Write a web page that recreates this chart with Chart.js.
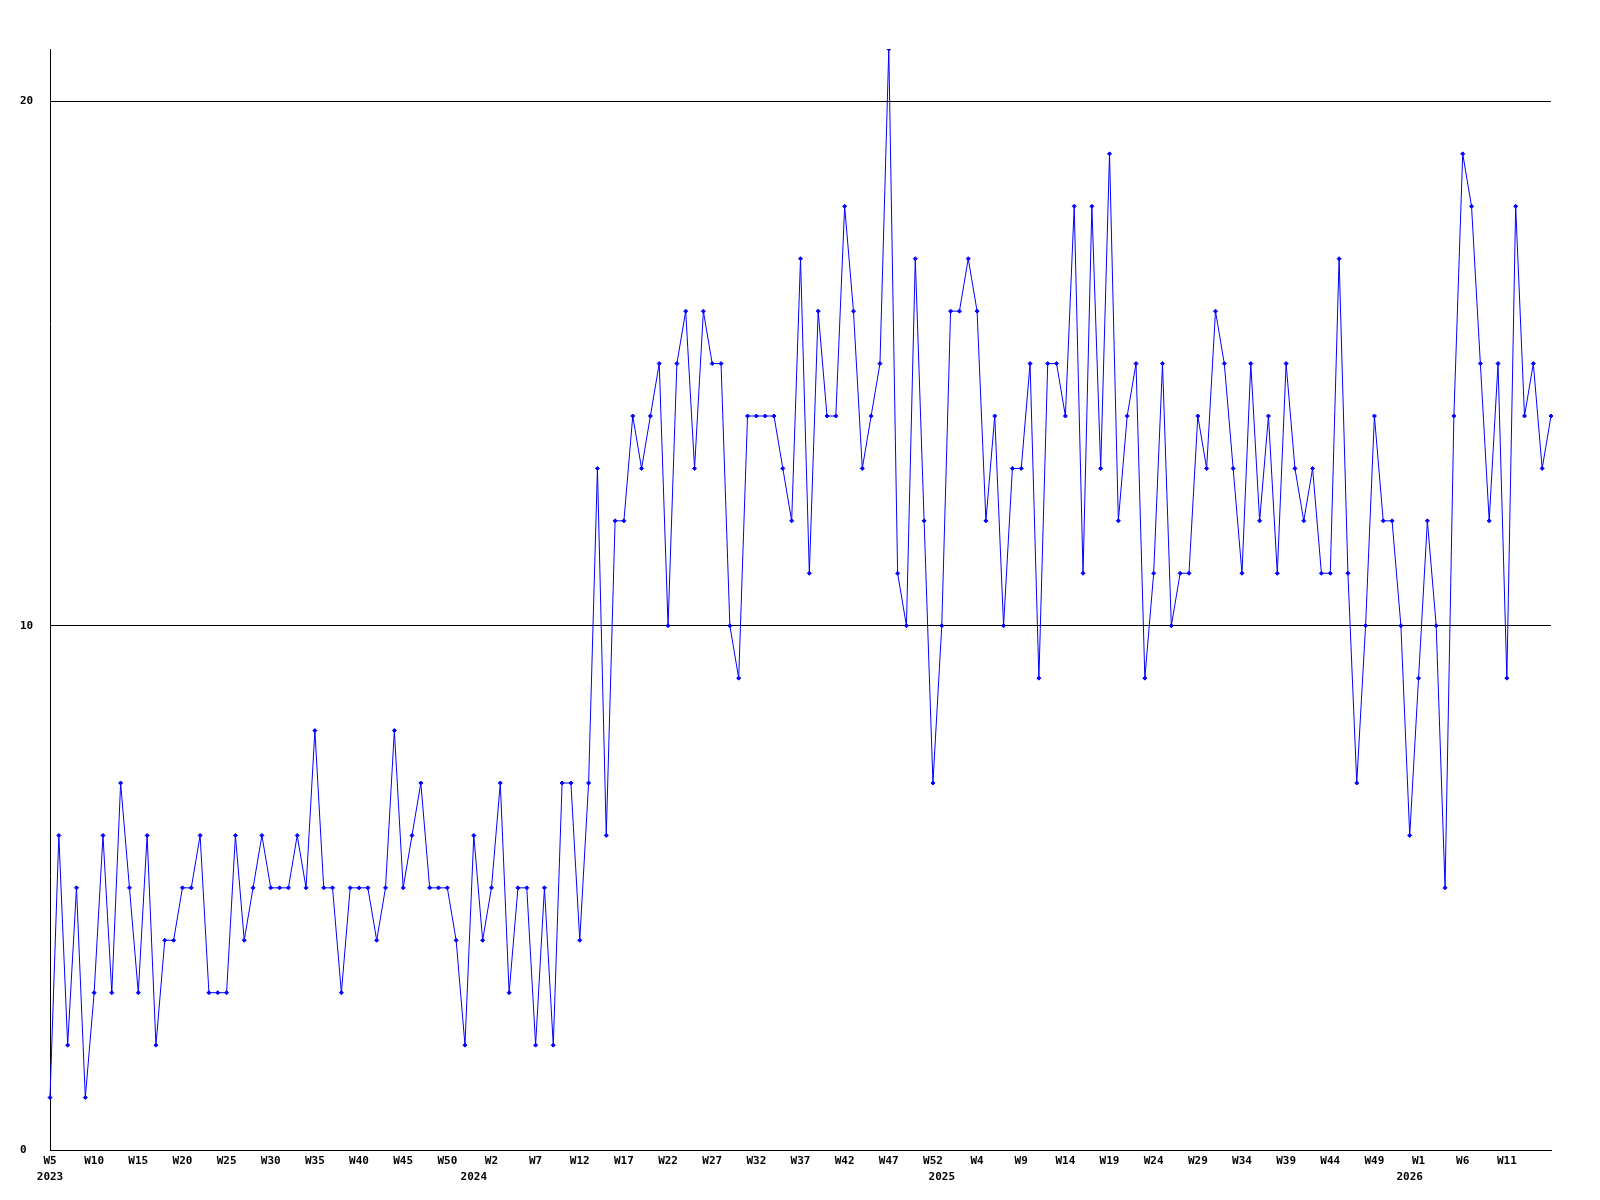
<!DOCTYPE html>
<html>
<head>
<meta charset="utf-8">
<script src="https://cdn.jsdelivr.net/npm/chart.js@4.4.0/dist/chart.umd.min.js"></script>
<style>
  html, body { margin: 0; padding: 0; background: #fff; }
  #chart { display: block; }
</style>
</head>
<body>
<canvas id="chart" width="1600" height="1200"></canvas>
<script>
// weeks covered by the series, per year
const years = [2023, 2024, 2025, 2026];
const firstWeeks = [5, 0, 0, 0];
const lastWeeks = [52, 52, 52, 16];

// weekly counts, one per week from 2023 W5 to 2026 W16
const counts = [
  1, 6, 2, 5, 1, 3, 6, 3, 7, 5, 3, 6, 2, 4, 4, 5, 5, 6, 3, 3,
  3, 6, 4, 5, 6, 5, 5, 5, 6, 5, 8, 5, 5, 3, 5, 5, 5, 4, 5, 8,
  5, 6, 7, 5, 5, 5, 4, 2, 6, 4, 5, 7, 3, 5, 5, 2, 5, 2, 7, 7,
  4, 7, 13, 6, 12, 12, 14, 13, 14, 15, 10, 15, 16, 13, 16, 15, 15, 10, 9, 14,
  14, 14, 14, 13, 12, 17, 11, 16, 14, 14, 18, 16, 13, 14, 15, 21, 11, 10, 17, 12,
  7, 10, 16, 16, 17, 16, 12, 14, 10, 13, 13, 15, 9, 15, 15, 14, 18, 11, 18, 13,
  19, 12, 14, 15, 9, 11, 15, 10, 11, 11, 14, 13, 16, 15, 13, 11, 15, 12, 14, 11,
  15, 13, 12, 13, 11, 11, 17, 11, 7, 10, 14, 12, 12, 10, 6, 9, 12, 10, 5, 14,
  19, 18, 15, 12, 15, 9, 18, 14, 15, 13, 14
];

// labels shown on the axis, one every 5 weeks
const weekTicks = [
  'W5', 'W10', 'W15', 'W20', 'W25', 'W30', 'W35', 'W40', 'W45', 'W50',
  'W2', 'W7', 'W12', 'W17', 'W22', 'W27', 'W32', 'W37', 'W42', 'W47', 'W52',
  'W4', 'W9', 'W14', 'W19', 'W24', 'W29', 'W34', 'W39', 'W44', 'W49',
  'W1', 'W6', 'W11'
];
const yTicks = [0, 10, 20];

// build the category list (year + week)
const categories = [];
const categoryYear = [];
years.forEach((y, k) => {
  for (let w = firstWeeks[k]; w <= lastWeeks[k]; w++) {
    categories.push(y + '-W' + w);
    categoryYear.push(y);
  }
});

const FONT = { family: "'DejaVu Sans Mono', monospace", size: 11, weight: 'bold' };
Chart.defaults.color = '#000';

new Chart(document.getElementById('chart'), {
  type: 'line',
  data: {
    labels: categories,
    datasets: [{
      data: counts,
      borderColor: '#0000ff',
      backgroundColor: '#0000ff',
      borderWidth: 1,
      tension: 0,
      pointStyle: 'rectRot',
      pointRadius: 2,
      pointBorderWidth: 1,
      xAxisID: 'x',
      yAxisID: 'y'
    }]
  },
  options: {
    responsive: false,
    animation: false,
    events: [],
    layout: { padding: { left: 20, top: 49, right: 49, bottom: 14 } },
    plugins: { legend: { display: false }, tooltip: { enabled: false } },
    scales: {
      x: {
        type: 'category',
        position: 'bottom',
        offset: false,
        grid: { display: false, drawTicks: false },
        border: { display: true, color: '#000', width: 1 },
        ticks: {
          autoSkip: false,
          maxRotation: 0,
          padding: 5,
          font: FONT,
          callback: (v, i) => (i % 5 === 0 && weekTicks[i / 5]) ? weekTicks[i / 5] : ''
        },
        afterFit: s => { s.height = 18; }
      },
      year: {
        type: 'category',
        position: 'bottom',
        offset: false,
        grid: { display: false, drawTicks: false },
        border: { display: false },
        ticks: {
          autoSkip: false,
          maxRotation: 0,
          padding: 3,
          font: FONT,
          callback: (v, i) => (i === 0 || categoryYear[i] !== categoryYear[i - 1]) ? String(categoryYear[i]) : ''
        },
        afterFit: s => { s.height = 18; }
      },
      y: {
        type: 'linear',
        min: 0,
        max: 21,
        grid: { color: '#000', lineWidth: 1, drawTicks: false },
        border: { display: true, color: '#000', width: 1 },
        ticks: {
          stepSize: 10,
          includeBounds: false,
          crossAlign: 'far',
          padding: 0,
          font: FONT
        },
        afterBuildTicks: s => { s.ticks = yTicks.map(v => ({ value: v })); },
        afterFit: s => { s.width = 30; }
      }
    }
  }
});
</script>
</body>
</html>
